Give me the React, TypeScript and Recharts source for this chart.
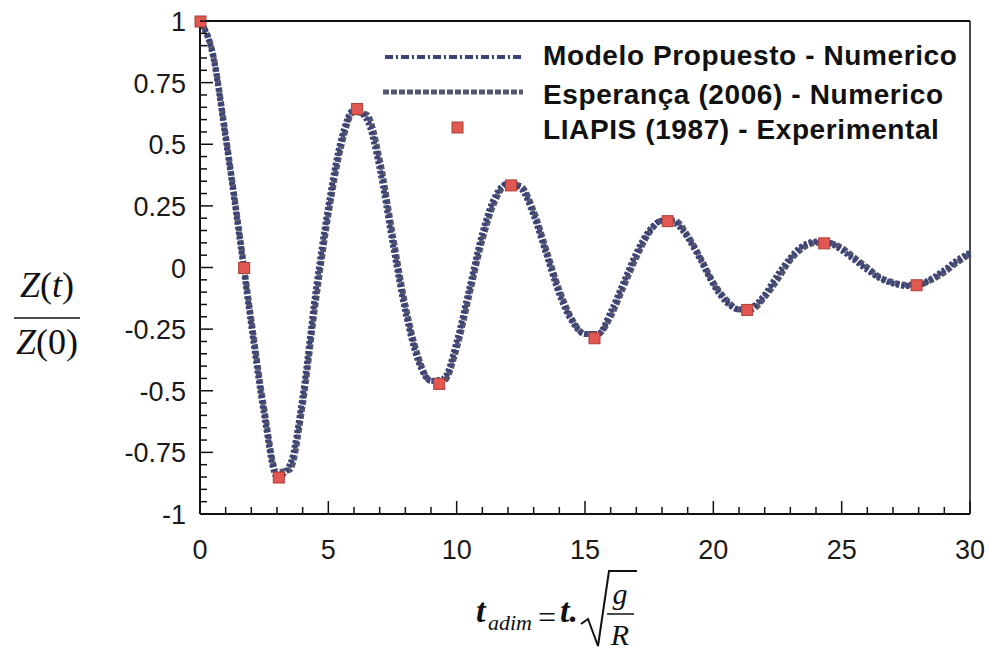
import React from 'react'
import {
  ComposedChart,
  Line,
  Scatter,
  XAxis,
  YAxis,
  ReferenceLine
} from 'recharts'

// tiempo adimensional (paso 0.5)
const tiempos = [
  0, 0.5, 1, 1.5, 2, 2.5, 3, 3.5, 4, 4.5, 5, 5.5, 6, 6.5, 7, 7.5, 8, 8.5, 9, 9.5,
  10, 10.5, 11, 11.5, 12, 12.5, 13, 13.5, 14, 14.5, 15, 15.5, 16, 16.5, 17, 17.5,
  18, 18.5, 19, 19.5, 20, 20.5, 21, 21.5, 22, 22.5, 23, 23.5, 24, 24.5, 25, 25.5,
  26, 26.5, 27, 27.5, 28, 28.5, 29, 29.5, 30
]

const modeloPropuesto = [
  1.0, 0.86, 0.52, 0.15, -0.24, -0.6, -0.85, -0.8, -0.52, -0.1, 0.25, 0.52, 0.64,
  0.6, 0.4, 0.1, -0.18, -0.38, -0.46, -0.45, -0.3, -0.08, 0.14, 0.29, 0.34, 0.32,
  0.21, 0.05, -0.11, -0.22, -0.27, -0.27, -0.18, -0.06, 0.06, 0.15, 0.19, 0.18,
  0.12, 0.03, -0.07, -0.14, -0.17, -0.16, -0.11, -0.03, 0.04, 0.09, 0.105, 0.1,
  0.07, 0.03, -0.01, -0.045, -0.065, -0.075, -0.07, -0.045, -0.01, 0.03, 0.06
]

const esperanca2006 = [
  1.0, 0.87, 0.54, 0.17, -0.21, -0.57, -0.83, -0.82, -0.56, -0.15, 0.21, 0.49,
  0.63, 0.62, 0.44, 0.14, -0.15, -0.36, -0.46, -0.46, -0.33, -0.11, 0.11, 0.27,
  0.34, 0.33, 0.23, 0.07, -0.09, -0.21, -0.27, -0.27, -0.2, -0.08, 0.04, 0.14,
  0.19, 0.19, 0.13, 0.04, -0.06, -0.13, -0.17, -0.17, -0.12, -0.05, 0.03, 0.08,
  0.1, 0.1, 0.08, 0.04, 0, -0.04, -0.06, -0.07, -0.07, -0.05, -0.02, 0.02, 0.055
]

const liapisT = [0, 1.7, 3.05, 6.1, 9.3, 12.1, 15.35, 18.2, 21.3, 24.3, 27.9]
const liapisZ = [1.0, 0.0, -0.85, 0.645, -0.47, 0.335, -0.285, 0.19, -0.17, 0.1, -0.07]

const xTicks = Array.from({ length: 31 }, (_, i) => i)
const yTicks = Array.from({ length: 41 }, (_, i) => Math.round((-1 + i * 0.05) * 100) / 100)

const curvas = tiempos.map((t, i) => ({
  t,
  modelo: modeloPropuesto[i],
  esperanca: esperanca2006[i]
}))

const experimental = liapisT.map((t, i) => ({ t, z: liapisZ[i] }))

const tickFont = {
  fontFamily: '"Liberation Sans", Arial, sans-serif',
  fontSize: 27,
  fill: '#1a1a1a'
}

const EJE_X = 514
const EJE_Y = 200

const XTick = (props: any) => {
  const { x, payload } = props
  const v = payload.value
  const mayor = v % 5 === 0
  return (
    <g>
      <line x1={x} x2={x} y1={EJE_X} y2={EJE_X - (mayor ? 13 : 7)} stroke="#111" strokeWidth={1.5} />
      {mayor && (
        <text x={x} y={EJE_X + 45} textAnchor="middle" {...tickFont}>
          {v}
        </text>
      )}
    </g>
  )
}

const YTick = (props: any) => {
  const { y, payload } = props
  const v = payload.value
  const mayor = Math.abs(v * 4 - Math.round(v * 4)) < 1e-6
  return (
    <g>
      <line x1={EJE_Y} x2={EJE_Y + (mayor ? 13 : 7)} y1={y} y2={y} stroke="#111" strokeWidth={1.5} />
      {mayor && (
        <text x={EJE_Y - 14} y={y + 10} textAnchor="end" {...tickFont}>
          {String(v)}
        </text>
      )}
    </g>
  )
}

const Cuadrado = (props: any) => {
  const { cx, cy } = props
  return <rect x={cx - 5} y={cy - 5} width={11} height={11} fill="#e2574f" stroke="#a8403c" strokeWidth={1} />
}

export default function App() {
  const serif = '"Liberation Serif", "Times New Roman", serif'
  const leyenda = {
    fontFamily: '"Liberation Sans", Arial, sans-serif',
    fontSize: 28,
    fontWeight: 700,
    letterSpacing: 0.6,
    fill: '#111'
  }
  return (
    <div style={{ position: 'absolute', left: 0, top: 0, width: 989, height: 650, background: '#fff' }}>
      <ComposedChart
        width={989}
        height={650}
        data={curvas}
        margin={{ top: 21, right: 19, left: 0, bottom: 0 }}
      >
        <XAxis
          dataKey="t"
          type="number"
          domain={[0, 30]}
          ticks={xTicks}
          interval={0}
          tickSize={0}
          tickMargin={0}
          tick={<XTick />}
          axisLine={{ stroke: '#111', strokeWidth: 2 }}
          height={136}
        />
        <YAxis
          type="number"
          domain={[-1, 1]}
          ticks={yTicks}
          interval={0}
          tickSize={0}
          tickMargin={0}
          tick={<YTick />}
          axisLine={{ stroke: '#111', strokeWidth: 2 }}
          width={200}
        />
        <ReferenceLine y={1} stroke="#111" strokeWidth={2} />
        <ReferenceLine x={30} stroke="#111" strokeWidth={1.5} />
        <Line
          type="monotone"
          dataKey="esperanca"
          stroke="#55586c"
          strokeWidth={6}
          strokeDasharray="5 2"
          dot={false}
          isAnimationActive={false}
        />
        <Line
          type="monotone"
          dataKey="modelo"
          stroke="#3c4378"
          strokeWidth={6}
          strokeDasharray="3 2"
          dot={false}
          isAnimationActive={false}
        />
        <Scatter
          data={experimental}
          dataKey="z"
          shape={<Cuadrado />}
          isAnimationActive={false}
        />
      </ComposedChart>

      <svg
        width={989}
        height={650}
        style={{ position: 'absolute', left: 0, top: 0, pointerEvents: 'none' }}
      >
        {/* leyenda */}
        <line x1={385} x2={523} y1={57} y2={57} stroke="#3c4378" strokeWidth={4} strokeDasharray="8 3 2 3" />
        <line x1={383} x2={523} y1={92} y2={92} stroke="#55586c" strokeWidth={5} strokeDasharray="6 2" />
        <rect x={452} y={122} width={11} height={11} fill="#e2574f" stroke="#a8403c" />
        <text x={543} y={65} {...leyenda}>Modelo Propuesto - Numerico</text>
        <text x={543} y={104} {...leyenda}>Esperança (2006) - Numerico</text>
        <text x={543} y={139} {...leyenda}>LIAPIS (1987) - Experimental</text>

        {/* eje Y */}
        <text x={47} y={297} textAnchor="middle" fontFamily={serif} fontSize={36} fill="#111">
          <tspan fontStyle="italic">Z</tspan>(<tspan fontStyle="italic">t</tspan>)
        </text>
        <line x1={14} x2={80} y1={318} y2={318} stroke="#111" strokeWidth={1.5} />
        <text x={47} y={354} textAnchor="middle" fontFamily={serif} fontSize={36} fill="#111">
          <tspan fontStyle="italic">Z</tspan>(0)
        </text>

        {/* eje X */}
        <text x={476} y={622} fontFamily={serif} fontSize={34} fontStyle="italic" fontWeight={700} fill="#111">t</text>
        <text x={488} y={630} fontFamily={serif} fontSize={22} fontStyle="italic" fill="#111">adim</text>
        <text x={538} y={628} fontFamily={serif} fontSize={32} fill="#111">=</text>
        <text x={560} y={622} fontFamily={serif} fontSize={34} fontStyle="italic" fontWeight={700} fill="#111">t.</text>
        <path d="M581 624 L588 619 L598 646 L609 571 L637 571" fill="none" stroke="#111" strokeWidth={2} />
        <text x={620} y={604} textAnchor="middle" fontFamily={serif} fontSize={30} fontStyle="italic" fill="#111">g</text>
        <line x1={607} x2={634} y1={614} y2={614} stroke="#111" strokeWidth={1.5} />
        <text x={620} y={645} textAnchor="middle" fontFamily={serif} fontSize={30} fontStyle="italic" fill="#111">R</text>
      </svg>
    </div>
  )
}
